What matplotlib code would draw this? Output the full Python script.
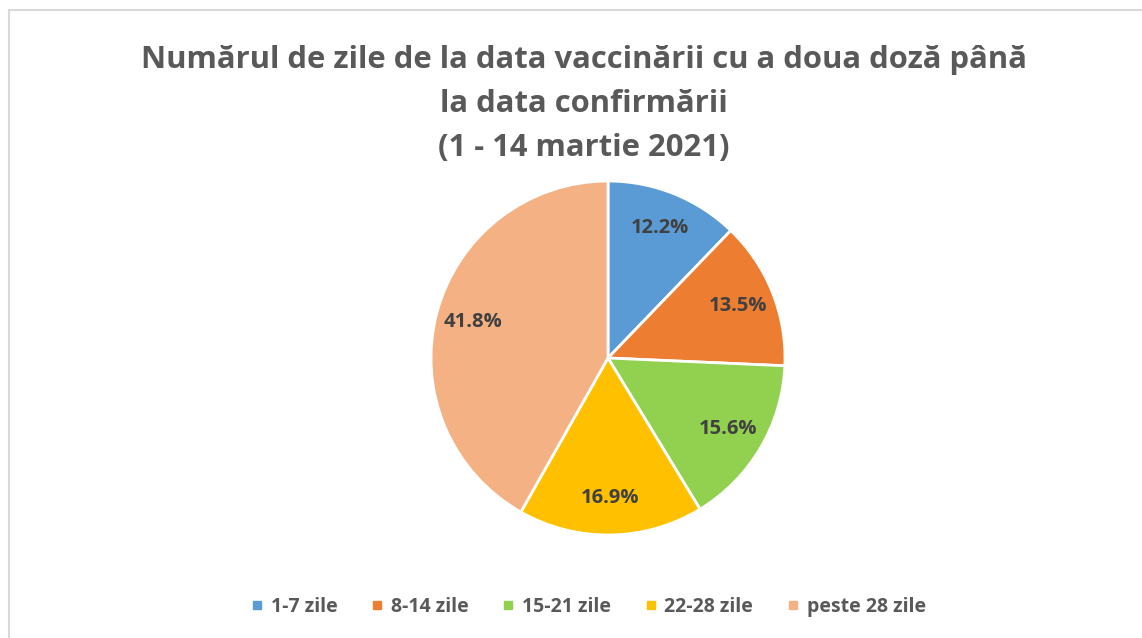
import matplotlib.pyplot as plt
from matplotlib.lines import Line2D

categories = ["1-7 zile", "8-14 zile", "15-21 zile", "22-28 zile", "peste 28 zile"]
values = [12.2, 13.5, 15.6, 16.9, 41.8]
colors = ["#5B9BD5", "#ED7D31", "#92D050", "#FFC000", "#F4B183"]

W, H = 1142, 638
fig = plt.figure(figsize=(W / 100, H / 100), dpi=100)
plt.rcParams['font.family'] = ['Open Sans', 'DejaVu Sans']

# chart border (light gray)
fig.add_artist(Line2D([9 / W, 9 / W], [0, 1 - 10 / H], color="#D9D9D9", lw=1.5))
fig.add_artist(Line2D([9 / W, 1], [1 - 10 / H, 1 - 10 / H], color="#D9D9D9", lw=1.5))

fig.text(584 / W, 1 - 104 / H,
         "Numărul de zile de la data vaccinării cu a doua doză până\nla data confirmării\n(1 - 14 martie 2021)",
         ha="center", va="center", fontsize=22.3, fontweight="bold", color="#595959",
         linespacing=1.62)

cx, cy, r = 608, 358, 177
ax = fig.add_axes([(cx - r) / W, 1 - (cy + r) / H, 2 * r / W, 2 * r / H])
wedges, texts, autotexts = ax.pie(values, colors=colors, startangle=90, counterclock=False,
                                  autopct="%.1f%%", pctdistance=0.79,
                                  wedgeprops=dict(edgecolor="white", linewidth=2))
for t in autotexts:
    t.set_fontsize(14.5)
    t.set_fontweight("bold")
    t.set_color("#404040")
ax.set_xlim(-1, 1)
ax.set_ylim(-1, 1)
ax.set_aspect("equal")
ax.axis("off")

handles = [Line2D([], [], marker="s", linestyle="none", markersize=6,
                  markerfacecolor=c, markeredgecolor=c) for c in colors]
leg = fig.legend(handles, categories, loc="center", bbox_to_anchor=(588 / W, 1 - 607 / H),
                 ncol=5, frameon=False, handlelength=0.7, handletextpad=0.35,
                 columnspacing=1.7, prop=dict(size=14, weight="bold"))
for t in leg.get_texts():
    t.set_color("#595959")

fig.savefig("out.png", dpi=100)
